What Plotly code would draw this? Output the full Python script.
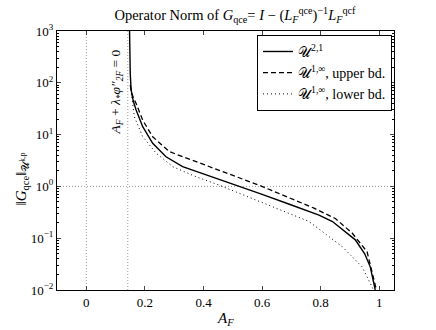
import plotly.graph_objects as go

# values
a_solid = [0.1476, 0.1485, 0.150, 0.153, 0.160, 0.170, 0.1925, 0.2265, 0.272, 0.3286,
           0.385, 0.45, 0.52, 0.6, 0.7, 0.76, 0.794, 0.84, 0.873, 0.918, 0.95, 0.969, 0.986]
norm_solid = [1000, 400, 150, 72.6, 45, 29.9, 14.2, 6.8, 3.74, 2.40,
              1.86, 1.40, 1.01, 0.70, 0.437, 0.33, 0.279, 0.21, 0.148, 0.093, 0.05, 0.028, 0.01]

a_upper = [0.150, 0.155, 0.162, 0.170, 0.1925, 0.2265, 0.283, 0.374, 0.453, 0.51,
           0.59, 0.65, 0.72, 0.777, 0.85, 0.907, 0.958, 0.986, 0.99]
norm_upper = [90, 62, 50, 40, 19, 9.1, 4.7, 3.0, 2.07, 1.58,
              1.05, 0.76, 0.52, 0.38, 0.24, 0.126, 0.055, 0.0115, 0.01]

a_lower = [0.152, 0.157, 0.164, 0.1925, 0.238, 0.295, 0.374, 0.453, 0.5, 0.6, 0.7,
           0.76, 0.873, 0.941, 0.975, 0.98]
norm_lower = [75, 40, 22, 9.1, 4.4, 2.4, 1.54, 1.06, 0.83, 0.49, 0.29,
              0.21, 0.069, 0.028, 0.0115, 0.01]

x_ticks = [0, 0.2, 0.4, 0.6, 0.8, 1]
x_labels = ["0", "0.2", "0.4", "0.6", "0.8", "1"]
y_ticks = [0.01, 0.1, 1, 10, 100, 1000]
y_labels = ["10<sup>−2</sup>", "10<sup>−1</sup>", "10<sup>0</sup>",
            "10<sup>1</sup>", "10<sup>2</sup>", "10<sup>3</sup>"]

a_sing = 0.1415  # A_F + lambda* phi'' = 0

FONT = "Liberation Serif, DejaVu Serif, serif"
U = "𝒰"

fig = go.Figure()
fig.add_trace(go.Scatter(x=a_solid, y=norm_solid, mode="lines",
                         line=dict(color="black", width=1.4),
                         name=f"{U}<sup>2,1</sup>"))
fig.add_trace(go.Scatter(x=a_upper, y=norm_upper, mode="lines",
                         line=dict(color="black", width=1.3, dash="5px,3px"),
                         name=f"{U}<sup>1,∞</sup>, upper bd."))
fig.add_trace(go.Scatter(x=a_lower, y=norm_lower, mode="lines",
                         line=dict(color="black", width=1, dash="1px,3px"),
                         name=f"{U}<sup>1,∞</sup>, lower bd."))

# dotted guide lines
guide = dict(color="#999999", width=1, dash="1px,2px")
for xv in [0, a_sing]:
    fig.add_shape(type="line", xref="x", yref="paper", x0=xv, x1=xv, y0=0, y1=1,
                  line=guide, layer="below")
fig.add_shape(type="line", xref="paper", yref="y", x0=0, x1=1, y0=1, y1=1,
              line=guide, layer="below")

fig.add_annotation(x=a_sing, y=1.82, xref="x", yref="y", xanchor="right", xshift=-1,
                   text="<i>A<sub>F</sub></i> + <i>λ<sub>*</sub>φ″<sub>2F</sub></i> = 0",
                   textangle=-90, showarrow=False,
                   font=dict(family=FONT, size=13.5, color="black"))

# axis titles as annotations so they sit where the reference has them
fig.add_annotation(x=0.5, y=-0.07, xref="paper", yref="paper", yanchor="top",
                   text="<i>A<sub>F</sub></i>", showarrow=False,
                   font=dict(family=FONT, size=15))
fig.add_annotation(x=-0.104, y=0.43, xref="paper", yref="paper",
                   xanchor="center", yanchor="middle", textangle=-90,
                   text=f"‖<i>G</i><sub>qce</sub>‖<sub>{U}<sup>k,p</sup></sub>",
                   showarrow=False, font=dict(family=FONT, size=15))

fig.update_layout(
    width=436, height=330,
    margin=dict(l=57, r=42, t=31, b=40, autoexpand=False),
    paper_bgcolor="white", plot_bgcolor="white",
    font=dict(family=FONT, size=13, color="black"),
    title=dict(text="Operator Norm of <i>G</i><sub>qce</sub>= <i>I</i> − (<i>L</i><sub><i>F</i></sub><sup>qce</sup>)<sup>−1</sup><i>L</i><sub><i>F</i></sub><sup>qcf</sup>",
               x=0.528, xref="paper", xanchor="center", y=0.955, yanchor="middle",
               font=dict(family=FONT, size=14.5)),
    legend=dict(x=0.994, y=0.985, xanchor="right", yanchor="top",
                bgcolor="white", bordercolor="black", borderwidth=1,
                font=dict(family=FONT, size=14), tracegroupgap=0,
                itemwidth=30),
    showlegend=True,
)
fig.update_xaxes(range=[-0.1, 1.05], tickvals=x_ticks, ticktext=x_labels,
                 ticks="inside", ticklen=4, mirror="ticks", showline=True,
                 linecolor="black", linewidth=1, showgrid=False, zeroline=False,
                 automargin=False)
fig.update_yaxes(type="log", range=[-2, 3], tickvals=y_ticks, ticktext=y_labels,
                 ticks="inside", ticklen=4, mirror="ticks", showline=True,
                 linecolor="black", linewidth=1, showgrid=False, zeroline=False,
                 automargin=False,
                 minor=dict(ticks="inside", ticklen=2, dtick="D1", showgrid=False,
                            tickcolor="black"))

# drop the browser's default 8px body margin so the 436x330 figure fills the window
fig.write_html("out.html", config={"displayModeBar": False},
               post_script="document.body.style.margin = '0';")
